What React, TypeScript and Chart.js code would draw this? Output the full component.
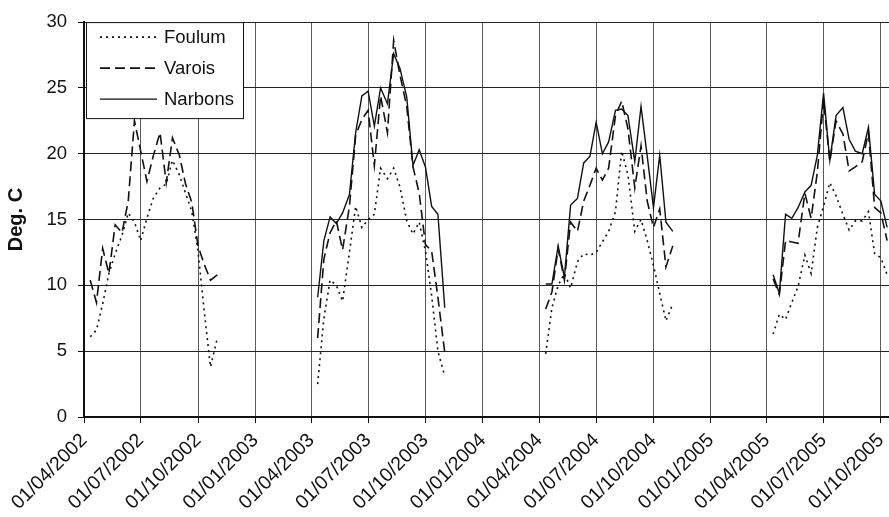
import React, { useEffect, useRef } from 'react';
import { Chart, registerables } from 'chart.js';

Chart.register(...registerables);

// ---- data (dekadal mean temperatures, Deg. C) ----
const tickLabels = [
  '01/04/2002', '01/07/2002', '01/10/2002', '01/01/2003', '01/04/2003', '01/07/2003', '01/10/2003',
  '01/01/2004', '01/04/2004', '01/07/2004', '01/10/2004', '01/01/2005', '01/04/2005', '01/07/2005', '01/10/2005',
];
const axisStart = '2002-04-01';
const axisEnd = '2005-10-14';

const dates2002 = ['2002-04-11', '2002-04-21', '2002-05-01', '2002-05-11', '2002-05-21', '2002-06-01', '2002-06-11', '2002-06-21', '2002-07-01', '2002-07-11', '2002-07-21', '2002-08-01', '2002-08-11', '2002-08-21', '2002-09-01', '2002-09-11', '2002-09-21', '2002-10-01', '2002-10-11', '2002-10-21', '2002-11-01'];
const dates2003 = ['2003-04-11', '2003-04-21', '2003-05-01', '2003-05-11', '2003-05-21', '2003-06-01', '2003-06-11', '2003-06-21', '2003-07-01', '2003-07-11', '2003-07-21', '2003-08-01', '2003-08-11', '2003-08-21', '2003-09-01', '2003-09-11', '2003-09-21', '2003-10-01', '2003-10-11', '2003-10-21', '2003-11-01'];
const dates2004 = ['2004-04-11', '2004-04-21', '2004-05-01', '2004-05-11', '2004-05-21', '2004-06-01', '2004-06-11', '2004-06-21', '2004-07-01', '2004-07-11', '2004-07-21', '2004-08-01', '2004-08-11', '2004-08-21', '2004-09-01', '2004-09-11', '2004-09-21', '2004-10-01', '2004-10-11', '2004-10-21', '2004-11-01'];
const dates2005 = ['2005-04-11', '2005-04-21', '2005-05-01', '2005-05-11', '2005-05-21', '2005-06-01', '2005-06-11', '2005-06-21', '2005-07-01', '2005-07-11', '2005-07-21', '2005-08-01', '2005-08-11', '2005-08-21', '2005-09-01', '2005-09-11', '2005-09-21', '2005-10-01', '2005-10-11'];

const foulum2002 = [6.1, 6.6, 8.6, 10.9, 12.4, 13.8, 15.5, 14.8, 13.4, 15.1, 16.6, 17.4, 17.7, 19.5, 18.4, 17.0, 15.6, 12.6, 8.0, 3.8, 6.0];
const varois2002 = [10.4, 8.7, 12.8, 10.9, 14.6, 14.0, 16.4, 22.5, 20.2, 17.9, 19.8, 21.6, 17.8, 21.2, 19.9, 17.7, 16.3, 13.0, 11.6, 10.4, 10.8];

const foulum2003 = [2.5, 7.5, 10.4, 10.0, 8.8, 12.5, 16.0, 14.4, 15.0, 15.4, 18.9, 18.1, 18.9, 17.5, 14.9, 13.9, 14.8, 12.6, 9.2, 5.0, 3.1];
const varois2003 = [6.0, 12.0, 14.0, 14.9, 12.7, 16.0, 21.4, 22.6, 23.3, 19.1, 24.4, 21.6, 28.6, 26.0, 23.6, 19.0, 17.0, 13.1, 12.6, 9.1, 4.9];
const narbons2003 = [9.1, 13.4, 15.2, 14.7, 15.5, 16.9, 21.6, 24.4, 24.75, 22.1, 25.0, 23.8, 27.6, 26.5, 24.3, 19.1, 20.3, 19.0, 16.0, 15.4, 8.3];

const foulum2004 = [4.8, 8.3, 10.0, 10.9, 9.8, 11.8, 12.4, 12.3, 12.5, 13.3, 14.1, 15.6, 20.2, 18.4, 14.1, 15.0, 13.4, 11.5, 9.4, 7.3, 8.6];
const varois2004 = [8.2, 9.5, 12.8, 10.4, 14.8, 14.1, 16.4, 17.6, 18.9, 18.0, 18.9, 22.9, 24.0, 21.9, 17.4, 20.6, 16.4, 14.4, 15.8, 11.4, 13.0];
const narbons2004 = [10.1, 10.1, 13.0, 10.6, 16.1, 16.6, 19.3, 19.8, 22.4, 20.0, 20.9, 23.3, 23.4, 22.9, 19.4, 23.6, 19.8, 15.9, 19.9, 14.8, 14.1];

const foulum2005 = [6.3, 7.8, 7.4, 8.7, 9.9, 12.3, 10.9, 14.4, 16.0, 17.8, 16.8, 15.4, 14.2, 14.9, 14.9, 15.6, 12.4, 12.1, 10.8];
const varois2005 = [10.5, 9.3, 13.4, 13.3, 13.2, 17.0, 15.1, 18.6, 24.1, 19.4, 22.5, 21.5, 18.7, 19.0, 19.4, 21.6, 15.9, 15.5, 13.4];
const narbons2005 = [10.8, 9.4, 15.4, 15.1, 15.9, 17.1, 17.6, 19.9, 24.6, 19.5, 22.9, 23.5, 21.1, 20.2, 20.0, 22.0, 16.9, 16.4, 14.4];

const seriesNames = ['Foulum', 'Varois', 'Narbons'];

// ---- helpers ----
const DAY = 86400000;
const isoToMs = (s: string) => {
  const [y, m, d] = s.split('-').map(Number);
  return Date.UTC(y, m - 1, d);
};
const dmyToMs = (s: string) => {
  const [d, m, y] = s.split('/').map(Number);
  return Date.UTC(y, m - 1, d);
};
const BASE = isoToMs(axisStart);
const isoDay = (s: string) => (isoToMs(s) - BASE) / DAY;
const dmyDay = (s: string) => (dmyToMs(s) - BASE) / DAY;

type Season = { dates: string[]; values: number[] | null };
function buildSeries(seasons: Season[]) {
  const pts: { x: number; y: number | null }[] = [];
  seasons.forEach((s) => {
    if (!s.values) return;
    if (pts.length) pts.push({ x: isoDay(s.dates[0]) - 60, y: null });
    s.dates.forEach((d, i) => pts.push({ x: isoDay(d), y: s.values![i] }));
  });
  return pts;
}

const FONT = '"Liberation Sans", Arial, sans-serif';
const INK = '#111111';
const dashes: number[][] = [[2, 4], [10, 5], []];

const legendPlugin = {
  id: 'boxLegend',
  afterDatasetsDraw(chart: any) {
    const { ctx, chartArea } = chart;
    const left = chartArea.left + 2;
    const top = chartArea.top;
    const w = 157;
    const h = 96;
    ctx.save();
    ctx.fillStyle = '#ffffff';
    ctx.fillRect(left, top, w, h);
    ctx.strokeStyle = INK;
    ctx.lineWidth = 1;
    ctx.strokeRect(left + 0.5, top + 0.5, w, h);
    chart.data.datasets.forEach((ds: any, i: number) => {
      const y = top + 15 + i * 31;
      ctx.beginPath();
      ctx.setLineDash(ds.borderDash || []);
      ctx.lineWidth = ds.borderWidth;
      ctx.strokeStyle = ds.borderColor;
      ctx.moveTo(left + 14, y);
      ctx.lineTo(left + 71, y);
      ctx.stroke();
      ctx.setLineDash([]);
      ctx.fillStyle = INK;
      ctx.font = `18.5px ${FONT}`;
      ctx.textBaseline = 'middle';
      ctx.textAlign = 'left';
      ctx.fillText(ds.label, left + 78, y + 1);
    });
    ctx.restore();
  },
};

export default function App() {
  const ref = useRef<HTMLCanvasElement | null>(null);
  useEffect(() => {
    document.body.style.margin = '0';
    const canvas = ref.current!;
    const seasonsF: Season[] = [
      { dates: dates2002, values: foulum2002 },
      { dates: dates2003, values: foulum2003 },
      { dates: dates2004, values: foulum2004 },
      { dates: dates2005, values: foulum2005 },
    ];
    const seasonsV: Season[] = [
      { dates: dates2002, values: varois2002 },
      { dates: dates2003, values: varois2003 },
      { dates: dates2004, values: varois2004 },
      { dates: dates2005, values: varois2005 },
    ];
    const seasonsN: Season[] = [
      { dates: dates2002, values: null },
      { dates: dates2003, values: narbons2003 },
      { dates: dates2004, values: narbons2004 },
      { dates: dates2005, values: narbons2005 },
    ];
    const all = [seasonsF, seasonsV, seasonsN];
    const tickValues = tickLabels.map(dmyDay);

    const chart = new Chart(canvas, {
      type: 'line',
      data: {
        datasets: all.map((s, i) => ({
          label: seriesNames[i],
          data: buildSeries(s),
          borderColor: INK,
          borderWidth: i === 2 ? 1.4 : 1.6,
          borderDash: dashes[i],
          pointRadius: 0,
          tension: 0,
          spanGaps: false,
          fill: false,
        })),
      },
      options: {
        animation: false,
        responsive: false,
        layout: { padding: { top: 17, left: 0, right: 0, bottom: 0 } },
        plugins: { legend: { display: false }, tooltip: { enabled: false } },
        scales: {
          x: {
            type: 'linear',
            min: 0,
            max: isoDay(axisEnd),
            afterBuildTicks: (scale: any) => {
              scale.ticks = tickValues.map((v) => ({ value: v }));
            },
            afterFit: (scale: any) => {
              scale.height = 100;
              scale.paddingLeft = 0;
              scale.paddingRight = 0;
            },
            ticks: {
              autoSkip: false,
              maxRotation: 45,
              minRotation: 45,
              padding: 6,
              color: INK,
              font: { family: FONT, size: 19.5 },
              callback: (_v: any, i: number) => tickLabels[i],
            },
            grid: { color: '#5a5a5a', lineWidth: 1, tickLength: 6, tickColor: INK, drawTicks: true },
            border: { color: INK, width: 2 },
          },
          y: {
            min: 0,
            max: 30,
            afterFit: (scale: any) => {
              scale.width = 84;
            },
            ticks: { stepSize: 5, padding: 11, color: INK, font: { family: FONT, size: 18.5 } },
            grid: { color: '#222222', lineWidth: 1, tickLength: 6, tickColor: INK },
            border: { color: INK, width: 2 },
            title: {
              display: true,
              text: 'Deg. C',
              color: INK,
              font: { family: FONT, size: 20, weight: 'bold' },
              padding: { top: 4, bottom: 0 },
            },
          },
        },
      },
      plugins: [legendPlugin],
    } as any);
    return () => chart.destroy();
  }, []);
  return (
    <div style={{ width: 889, height: 517 }}>
      <canvas ref={ref} width={889} height={517} style={{ display: 'block', width: 889, height: 517 }} />
    </div>
  );
}
